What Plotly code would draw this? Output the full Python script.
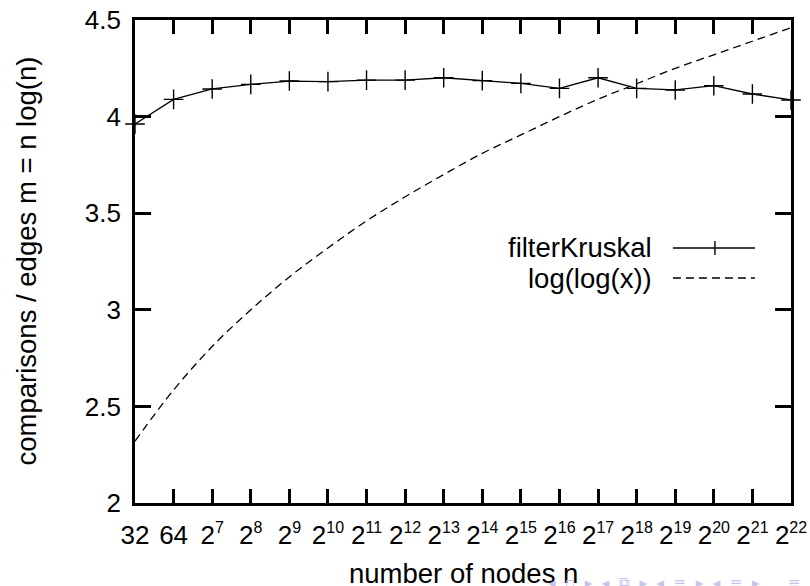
import plotly.graph_objects as go

# ---- data ----
exponents = [5, 6, 7, 8, 9, 10, 11, 12, 13, 14, 15, 16, 17, 18, 19, 20, 21, 22]
SUP = "<sup><span style='font-size:16px'>{}</span></sup>"
tick_labels = ["32", "64"] + ["2" + SUP.format(e) for e in exponents[2:]]
filter_kruskal = [3.962, 4.089, 4.143, 4.167, 4.184, 4.181, 4.189, 4.189, 4.201,
                  4.186, 4.172, 4.146, 4.201, 4.146, 4.138, 4.160, 4.117, 4.086]
loglog_values = [2.32, 2.585, 2.81, 3.0, 3.17, 3.32, 3.46, 3.585, 3.70,
                 3.81, 3.905, 4.0, 4.09, 4.17, 4.25, 4.32, 4.39, 4.46]
y_ticks = [2, 2.5, 3, 3.5, 4, 4.5]

FONT = "Liberation Sans, Arial, Helvetica, sans-serif"

fig = go.Figure()
fig.add_trace(go.Scatter(
    x=exponents, y=loglog_values, mode="lines", name="log(log(x))",
    line=dict(color="black", width=1.3, dash="8px,5px", shape="spline"),
    cliponaxis=False, showlegend=False))
fig.add_trace(go.Scatter(
    x=exponents, y=filter_kruskal, mode="lines+markers", name="filterKruskal",
    line=dict(color="black", width=1.3),
    marker=dict(symbol="cross-thin", size=14, line=dict(color="black", width=1.4)),
    cliponaxis=False, showlegend=False))

axis_common = dict(
    showline=True, linecolor="black", linewidth=2.8, mirror="ticks",
    ticks="inside", tickcolor="black", tickwidth=2.6,
    showgrid=False, zeroline=False, automargin=False,
    tickfont=dict(family=FONT, size=26, color="black"),
)
fig.update_xaxes(range=[5, 22], tickvals=exponents, ticktext=tick_labels,
                 ticklen=14, ticklabelstandoff=7, **axis_common)
fig.update_yaxes(range=[2, 4.5], tickvals=y_ticks, ticklen=16,
                 ticklabelstandoff=6, **axis_common)

NB = "\u00a0\u00a0"
nav = NB.join(["◂", "▫", "▸", "◂", "⧉", "▸", "◂", "≡", "▸", "◂", "≡", "▸"]) + NB * 3 + "≡"

annotations = [
    dict(text="comparisons / edges m = n log(n)", xref="paper", yref="paper",
         x=0, y=0.5, xshift=-109, xanchor="center", yanchor="middle", textangle=-90,
         showarrow=False, font=dict(family=FONT, size=27.5, color="black")),
    dict(text="number of nodes n", xref="paper", yref="paper",
         x=0.5, y=0, yshift=-53, xanchor="center", yanchor="top",
         showarrow=False, font=dict(family=FONT, size=27.5, color="black")),
    # legend texts
    dict(text="filterKruskal", xref="paper", yref="paper", x=0.791, y=0.528,
         xanchor="right", yanchor="middle", showarrow=False,
         font=dict(family=FONT, size=27.5, color="black")),
    dict(text="log(log(x))", xref="paper", yref="paper", x=0.791, y=0.4658,
         xanchor="right", yanchor="middle", showarrow=False,
         font=dict(family=FONT, size=27.5, color="black")),
    # beamer navigation symbols (faint)
    dict(text=nav, xref="paper", yref="paper",
         x=1.0, y=0, xshift=12, yshift=-69, xanchor="right", yanchor="top",
         showarrow=False, font=dict(family="DejaVu Sans", size=15, color="#c4c4e8")),
]

shapes = [
    dict(type="line", xref="paper", yref="paper", x0=0.820, x1=0.945, y0=0.528, y1=0.528,
         line=dict(color="black", width=1.3)),
    dict(type="line", xref="paper", yref="paper", x0=0.884, x1=0.884,
         ysizemode="pixel", yanchor=0.528, y0=-7, y1=7,
         line=dict(color="black", width=1.4)),
    dict(type="line", xref="paper", yref="paper", x0=0.820, x1=0.945, y0=0.4658, y1=0.4658,
         line=dict(color="black", width=1.3, dash="8px,5px")),
]

fig.update_layout(
    template="none",
    width=810, height=586,
    margin=dict(l=135, r=19, t=20, b=83, autoexpand=False),
    paper_bgcolor="white", plot_bgcolor="white",
    showlegend=False,
    annotations=annotations, shapes=shapes,
    font=dict(family=FONT, color="black"),
)

fig.write_html("out.html")
